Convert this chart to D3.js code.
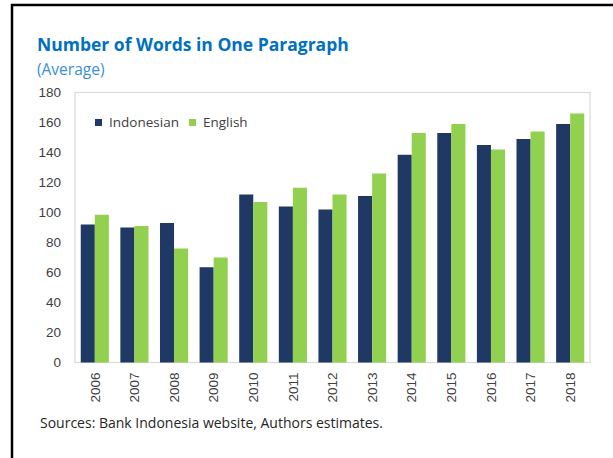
<!DOCTYPE html>
<html>
<head>
<meta charset="utf-8">
<script src="https://cdn.jsdelivr.net/npm/d3@7"></script>
<style>
  body { margin: 0; background: #ffffff; }
  svg { display: block; font-family: "Open Sans", "Noto Sans", sans-serif; }
  .tick text { fill: #404040; font-size: 13.5px; }
</style>
</head>
<body>
<div id="chart"></div>
<script>
// data
const YEARS = ["2006", "2007", "2008", "2009", "2010", "2011", "2012", "2013", "2014", "2015", "2016", "2017", "2018"];
const SERIES = ["Indonesian", "English"];
const INDONESIAN = [92, 90, 93, 63.5, 112, 104, 102, 111, 138.5, 153, 145, 149, 159];
const ENGLISH = [98.5, 91, 76, 70, 107, 116.5, 112, 126, 153, 159, 142, 154, 166];
const Y_TICKS = [0, 20, 40, 60, 80, 100, 120, 140, 160, 180];

const COLORS = { Indonesian: "#1f3864", English: "#92d050" };

const rows = YEARS.map((year, i) => ({
  year,
  values: [
    { key: "Indonesian", value: INDONESIAN[i] },
    { key: "English", value: ENGLISH[i] },
  ],
}));

function drawChart() {
  const outerWidth = 613;
  const outerHeight = 458;
  const plot = { left: 75, right: 590, top: 92.5, bottom: 362.5 };

  const svg = d3
    .select("#chart")
    .append("svg")
    .attr("width", outerWidth)
    .attr("height", outerHeight);

  // page frame (top and left only)
  svg.append("line")
    .attr("x1", 11).attr("x2", outerWidth)
    .attr("y1", 5).attr("y2", 5)
    .attr("stroke", "#000").attr("stroke-width", 2.5);
  svg.append("line")
    .attr("x1", 12).attr("x2", 12)
    .attr("y1", 4).attr("y2", outerHeight)
    .attr("stroke", "#000").attr("stroke-width", 2.5);

  // titles
  svg.append("text")
    .attr("x", 37).attr("y", 51)
    .attr("fill", "#0070c0")
    .attr("font-size", 17.5)
    .attr("font-weight", "bold")
    .text("Number of Words in One Paragraph");

  svg.append("text")
    .attr("x", 37).attr("y", 75)
    .attr("fill", "#3a8fd6")
    .attr("font-size", 15.5)
    .text("(Average)");

  // scales
  const x0 = d3.scaleBand()
    .domain(YEARS)
    .range([plot.left, plot.right])
    .paddingInner(0.29)
    .paddingOuter(0.145);
  const x1 = d3.scaleBand().domain(SERIES).range([0, x0.bandwidth()]);
  const y = d3.scaleLinear().domain([0, 180]).range([plot.bottom, plot.top]);

  // plot frame
  svg.append("rect")
    .attr("x", plot.left).attr("y", plot.top)
    .attr("width", plot.right - plot.left)
    .attr("height", plot.bottom - plot.top)
    .attr("fill", "none")
    .attr("stroke", "#d9d9d9")
    .attr("stroke-width", 1.2);

  // y axis
  const yAxis = svg.append("g")
    .attr("transform", `translate(${plot.left}, 0)`)
    .call(d3.axisLeft(y).tickValues(Y_TICKS).tickSize(0).tickPadding(14));
  yAxis.select(".domain").remove();

  // x axis
  const xAxis = svg.append("g")
    .attr("transform", `translate(0, ${plot.bottom})`)
    .call(d3.axisBottom(x0).tickSize(0));
  xAxis.select(".domain").remove();
  xAxis.selectAll("text")
    .attr("transform", "rotate(-90)")
    .attr("text-anchor", "end")
    .attr("x", -10)
    .attr("y", 0)
    .attr("dy", "0.35em");

  // bars
  svg.append("g")
    .selectAll("g")
    .data(rows)
    .join("g")
    .attr("transform", (d) => `translate(${x0(d.year)}, 0)`)
    .selectAll("rect")
    .data((d) => d.values)
    .join("rect")
    .attr("x", (d) => x1(d.key))
    .attr("y", (d) => y(d.value))
    .attr("width", x1.bandwidth())
    .attr("height", (d) => y(0) - y(d.value))
    .attr("fill", (d) => COLORS[d.key]);

  // legend
  const legendItems = [
    { key: "Indonesian", x: 95 },
    { key: "English", x: 189 },
  ];
  const legend = svg.append("g").attr("transform", "translate(0, 119)");
  legend.selectAll("rect")
    .data(legendItems)
    .join("rect")
    .attr("x", (d) => d.x)
    .attr("y", 0)
    .attr("width", 7)
    .attr("height", 7)
    .attr("fill", (d) => COLORS[d.key]);
  legend.selectAll("text")
    .data(legendItems)
    .join("text")
    .attr("x", (d) => d.x + 14)
    .attr("y", 8)
    .attr("fill", "#404040")
    .attr("font-size", 13.5)
    .text((d) => d.key);

  // source note
  svg.append("text")
    .attr("x", 40).attr("y", 428)
    .attr("fill", "#262626")
    .attr("font-size", 14)
    .text("Sources: Bank Indonesia website, Authors estimates.");
}

drawChart();
</script>
</body>
</html>
